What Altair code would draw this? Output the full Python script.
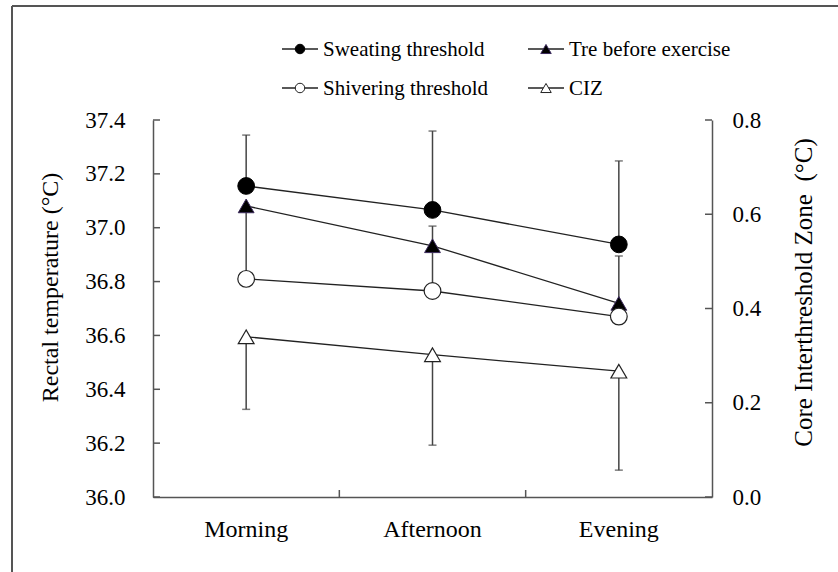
import altair as alt
import pandas as pd

# ---------------- data ----------------
periods = ["Morning", "Afternoon", "Evening"]
sweating = [37.155, 37.066, 36.938]
sweating_upper = [37.344, 37.359, 37.248]
tre_before = [37.081, 36.933, 36.719]
shivering = [36.810, 36.765, 36.670]
shivering_upper = [37.07, 37.006, 36.895]
ciz = [0.340, 0.302, 0.267]
ciz_lower = [0.186, 0.110, 0.057]

left_ticks = [36.0, 36.2, 36.4, 36.6, 36.8, 37.0, 37.2, 37.4]
right_ticks = [0.0, 0.2, 0.4, 0.6, 0.8]
inner_x_ticks = ["Afternoon", "Evening"]

legend_labels = ["Sweating threshold", "Tre before exercise",
                 "Shivering threshold", "CIZ"]

# ---------------- style ----------------
W, H = 559, 377
FONT = "'Times New Roman', 'Liberation Serif', Times, serif"
AXC = "#555555"
LINEC = "#222222"
ERRC = "#444444"

df = pd.DataFrame({
    "period": periods,
    "sweat": sweating, "sweat_up": sweating_upper,
    "tre": tre_before,
    "shiv": shivering, "shiv_up": shivering_upper,
    "ciz": ciz, "ciz_low": ciz_lower,
})

x_scale = alt.Scale(type="band", domain=periods, paddingInner=0, paddingOuter=0)
x_axis = alt.Axis(title=None, ticks=False, labelAngle=0, labelFont=FONT,
                  labelFontSize=24, labelColor="black", labelPadding=20,
                  domainColor=AXC, domainWidth=1.5, grid=False)


def X(field="period:N", **kw):
    return alt.X(field, scale=x_scale, axis=x_axis, sort=periods, **kw)


left_scale = alt.Scale(domain=[36.0, 37.4], nice=False, zero=False)
left_title = "Rectal temperature (\u00b0C)"
left_axis = alt.Axis(values=left_ticks, format=".1f", ticks=False,
                     labelPadding=28, labelFont=FONT, labelFontSize=23,
                     labelColor="black", domainColor=AXC, domainWidth=1.5,
                     grid=False, titleFont=FONT, titleFontSize=24,
                     titleFontWeight="normal", titleColor="black",
                     titleAngle=270, titleX=-103, titleY=167,
                     titleBaseline="middle", titleAlign="center")


def YL(field):
    return alt.Y(field, scale=left_scale, axis=left_axis, title=left_title)


right_scale = alt.Scale(domain=[0.0, 0.8], nice=False, zero=True)
right_title = "Core Interthreshold Zone\u00a0\u00a0(\u00b0C)"
right_axis = alt.Axis(orient="right", values=right_ticks, format=".1f",
                      ticks=False, labelPadding=20, labelFont=FONT,
                      labelFontSize=23, labelColor="black", domainColor=AXC,
                      domainWidth=1.5, grid=False, titleFont=FONT,
                      titleFontSize=25, titleFontWeight="normal",
                      titleColor="black", titleAngle=270, titleX=91,
                      titleY=172, titleBaseline="middle", titleAlign="center")


def YR(field):
    return alt.Y(field, scale=right_scale, axis=right_axis, title=right_title)


base = alt.Chart(df)

# ---------- left-axis layers ----------
err_sweat = base.mark_rule(color=ERRC, strokeWidth=1.5).encode(
    x=X(), y=YL("sweat:Q"), y2="sweat_up:Q")
cap_sweat = base.mark_tick(color=ERRC, thickness=1.5, size=8).encode(
    x=X(), y=YL("sweat_up:Q"))
err_shiv = base.mark_rule(color=ERRC, strokeWidth=1.5).encode(
    x=X(), y=YL("shiv:Q"), y2="shiv_up:Q")
cap_shiv = base.mark_tick(color=ERRC, thickness=1.5, size=8).encode(
    x=X(), y=YL("shiv_up:Q"))

line_sweat = base.mark_line(color=LINEC, strokeWidth=1.3).encode(x=X(), y=YL("sweat:Q"))
line_tre = base.mark_line(color=LINEC, strokeWidth=1.3).encode(x=X(), y=YL("tre:Q"))
line_shiv = base.mark_line(color=LINEC, strokeWidth=1.3).encode(x=X(), y=YL("shiv:Q"))

pt_sweat = base.mark_point(shape="circle", size=280, filled=True, fill="black",
                           stroke="black", strokeWidth=1, opacity=1).encode(
    x=X(), y=YL("sweat:Q"))
pt_tre = base.mark_point(shape="triangle-up", size=250, filled=True, fill="black",
                         stroke="#3b2a5c", strokeWidth=1, opacity=1).encode(
    x=X(), y=YL("tre:Q"))
pt_shiv = base.mark_point(shape="circle", size=280, filled=True, fill="white",
                          stroke="#222222", strokeWidth=1.2, opacity=1).encode(
    x=X(), y=YL("shiv:Q"))

left_tick_marks = alt.Chart(pd.DataFrame({"t": left_ticks})).mark_rule(
    color=AXC, strokeWidth=1.5).encode(
    y=YL("t:Q"), x=alt.value(0), x2=alt.value(7))

x_tick_marks = alt.Chart(pd.DataFrame({"period": inner_x_ticks})).mark_rule(
    color=AXC, strokeWidth=1.5).encode(
    x=X("period:N", bandPosition=0), y=alt.value(H - 7), y2=alt.value(H))

# ---------- legend (manual, two columns) ----------
legend_specs = [
    # label, col-x (line start), row-y, shape, fill, stroke
    (legend_labels[0], 129, -71, "circle", "black", "black"),
    (legend_labels[1], 375, -71, "triangle-up", "black", "#3b2a5c"),
    (legend_labels[2], 129, -32, "circle", "white", "#222222"),
    (legend_labels[3], 375, -32, "triangle-up", "white", "#222222"),
]
legend_layers = []
for label, lx, ly, shape, fill, stroke in legend_specs:
    ldata = alt.Data(values=[{"label": label}])
    legend_layers.append(alt.Chart(ldata).mark_rule(color=LINEC, strokeWidth=1.3).encode(
        x=alt.value(lx), x2=alt.value(lx + 36), y=alt.value(ly)))
    legend_layers.append(alt.Chart(ldata).mark_point(
        shape=shape, size=90 if shape == "circle" else 110, filled=True,
        fill=fill, stroke=stroke, strokeWidth=1, opacity=1).encode(
        x=alt.value(lx + 18), y=alt.value(ly)))
    legend_layers.append(alt.Chart(ldata).mark_text(
        align="left", baseline="middle", font=FONT, fontSize=21,
        color="black").encode(
        x=alt.value(lx + 41), y=alt.value(ly + 1), text="label:N"))

# ---------- outer frame (top and left edges visible) ----------
frame_data = alt.Data(values=[{"f": 1}])
frame_left = alt.Chart(frame_data).mark_rule(color="#555555", strokeWidth=2).encode(
    x=alt.value(-141), y=alt.value(-114), y2=alt.value(H + 120))
frame_top = alt.Chart(frame_data).mark_rule(color="#555555", strokeWidth=2).encode(
    x=alt.value(-141), x2=alt.value(W + 200), y=alt.value(-114))

left = alt.layer(err_sweat, cap_sweat, err_shiv, cap_shiv,
                 line_sweat, line_tre, line_shiv,
                 pt_sweat, pt_tre, pt_shiv,
                 left_tick_marks, x_tick_marks,
                 *legend_layers, frame_left, frame_top)

# ---------- right-axis layers ----------
err_ciz = base.mark_rule(color=ERRC, strokeWidth=1.5).encode(
    x=X(), y=YR("ciz:Q"), y2="ciz_low:Q")
cap_ciz = base.mark_tick(color=ERRC, thickness=1.5, size=8).encode(
    x=X(), y=YR("ciz_low:Q"))
line_ciz = base.mark_line(color=LINEC, strokeWidth=1.3).encode(x=X(), y=YR("ciz:Q"))
pt_ciz = base.mark_point(shape="triangle-up", size=250, filled=True, fill="white",
                         stroke="#222222", strokeWidth=1.2, opacity=1).encode(
    x=X(), y=YR("ciz:Q"))
right_tick_marks = alt.Chart(pd.DataFrame({"t": right_ticks})).mark_rule(
    color=AXC, strokeWidth=1.5).encode(
    y=YR("t:Q"), x=alt.value(W - 7), x2=alt.value(W))

right = alt.layer(err_ciz, cap_ciz, line_ciz, pt_ciz, right_tick_marks)

chart = alt.layer(left, right).resolve_scale(y="independent").properties(
    width=W, height=H,
    autosize=alt.AutoSizeParams(type="none"),
    padding={"left": 153, "top": 120, "right": 126, "bottom": 75},
    background="white",
).configure_view(stroke=None)

chart.save("out.html", embed_options={"renderer": "svg", "actions": False})
